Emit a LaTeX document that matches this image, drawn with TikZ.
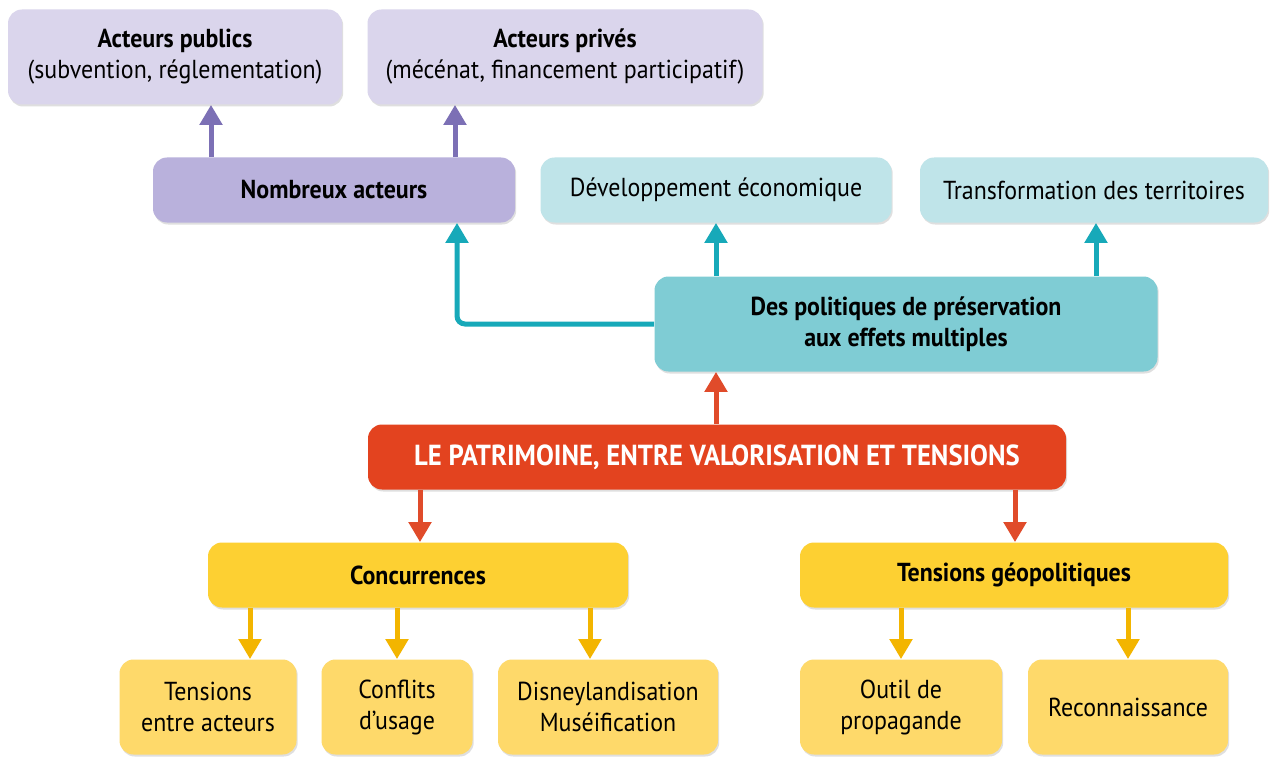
\documentclass[tikz,border=0pt]{standalone}
\usepackage{fontspec}
\setmainfont{PT Sans}[FakeStretch=0.92]
\usetikzlibrary{arrows.meta,shadows}

\definecolor{purlight}{HTML}{DAD5EC}
\definecolor{purdark}{HTML}{B9B1DC}
\definecolor{purarrow}{HTML}{7C70B5}
\definecolor{teallight}{HTML}{BFE4E9}
\definecolor{tealmid}{HTML}{7FCCD4}
\definecolor{tealarrow}{HTML}{17A9B9}
\definecolor{patred}{HTML}{E3431F}
\definecolor{redarrow}{HTML}{E04B2A}
\definecolor{yelmid}{HTML}{FDD032}
\definecolor{yellight}{HTML}{FED96A}
\definecolor{yelarrow}{HTML}{F3B500}

\begin{document}
\begin{tikzpicture}[x=0.5pt,y=-0.5pt,
        box/.style={rounded corners=7pt,inner sep=2pt,align=center,
            font=\fontsize{13}{15.5}\selectfont,
            drop shadow={shadow xshift=0.6pt,shadow yshift=-1pt,opacity=0.25}},
        tall/.style={box,minimum height=47.5pt},
        flat/.style={box,minimum height=32.5pt},
        bold/.style={font=\fontsize{13}{15.5}\selectfont\bfseries},
        purbox/.style={fill=purlight},
        tealbox/.style={fill=teallight},
        yelbox/.style={fill=yellight},
        link/.style={line width=2.5pt,-{Triangle[width=11pt,length=10pt]}}]
\useasboundingbox[fill=white] (0,0) rectangle (1280,765);

% top row
\node[tall,purbox,minimum width=167pt] (pub) at (175,57)
    {\textbf{Acteurs publics}\\(subvention, réglementation)};
\node[tall,purbox,minimum width=197.5pt] (priv) at (565,57)
    {\textbf{Acteurs privés}\\(mécénat, financement participatif)};

% second row
\node[flat,bold,fill=purdark,minimum width=181pt] (nomb) at (334,190) {Nombreux acteurs};
\node[flat,tealbox,minimum width=175.5pt] (dev) at (716,190) {Développement économique};
\node[flat,tealbox,minimum width=174pt] (terr) at (1094,190) {Transformation des territoires};

% middle
\node[tall,bold,fill=tealmid,minimum width=251.5pt] (pol) at (906,324)
    {Des politiques de préservation\\aux effets multiples};
\node[flat,fill=patred,text=white,minimum width=349pt,font=\fontsize{14.5}{15.5}\selectfont\bfseries] (pat) at (717,457)
    {LE PATRIMOINE, ENTRE VALORISATION ET TENSIONS};

% lower row
\node[flat,bold,fill=yelmid,minimum width=210pt] (conc) at (418,575) {Concurrences};
\node[flat,bold,fill=yelmid,minimum width=214pt] (geo) at (1014,575) {Tensions géopolitiques};

% bottom row
\node[tall,yelbox,minimum width=88.5pt] (tens) at (208,707) {Tensions\\entre acteurs};
\node[tall,yelbox,minimum width=75.5pt] (conf) at (397,707) {Conflits\\d’usage};
\node[tall,yelbox,minimum width=110pt] (disn) at (608,707) {Disneylandisation\\Muséification};
\node[tall,yelbox,minimum width=101pt] (outil) at (901,707) {Outil de\\propagande};
\node[tall,yelbox,minimum width=100pt] (reco) at (1128,707) {Reconnaissance};

% arrows
\draw[link,purarrow] (nomb.north -| 211,0) -- (pub.south -| 211,0);
\draw[link,purarrow] (nomb.north -| 455,0) -- (priv.south -| 455,0);

\draw[link,tealarrow,rounded corners=4pt] (pol.west) -| (nomb.south -| 457,0);
\draw[link,tealarrow] (pol.north -| dev.south) -- (dev.south);
\draw[link,tealarrow] (pol.north -| 1096,0) -- (terr.south -| 1096,0);

\draw[link,redarrow] (pat.north -| 716,0) -- (pol.south -| 716,0);
\draw[link,redarrow] (pat.south -| 420,0) -- (conc.north -| 420,0);
\draw[link,redarrow] (pat.south -| 1015,0) -- (geo.north -| 1015,0);

\draw[link,yelarrow] (conc.south -| 250,0) -- (tens.north -| 250,0);
\draw[link,yelarrow] (conc.south -| conf.north) -- (conf.north);
\draw[link,yelarrow] (conc.south -| 590,0) -- (disn.north -| 590,0);
\draw[link,yelarrow] (geo.south -| outil.north) -- (outil.north);
\draw[link,yelarrow] (geo.south -| reco.north) -- (reco.north);
\end{tikzpicture}
\end{document}
